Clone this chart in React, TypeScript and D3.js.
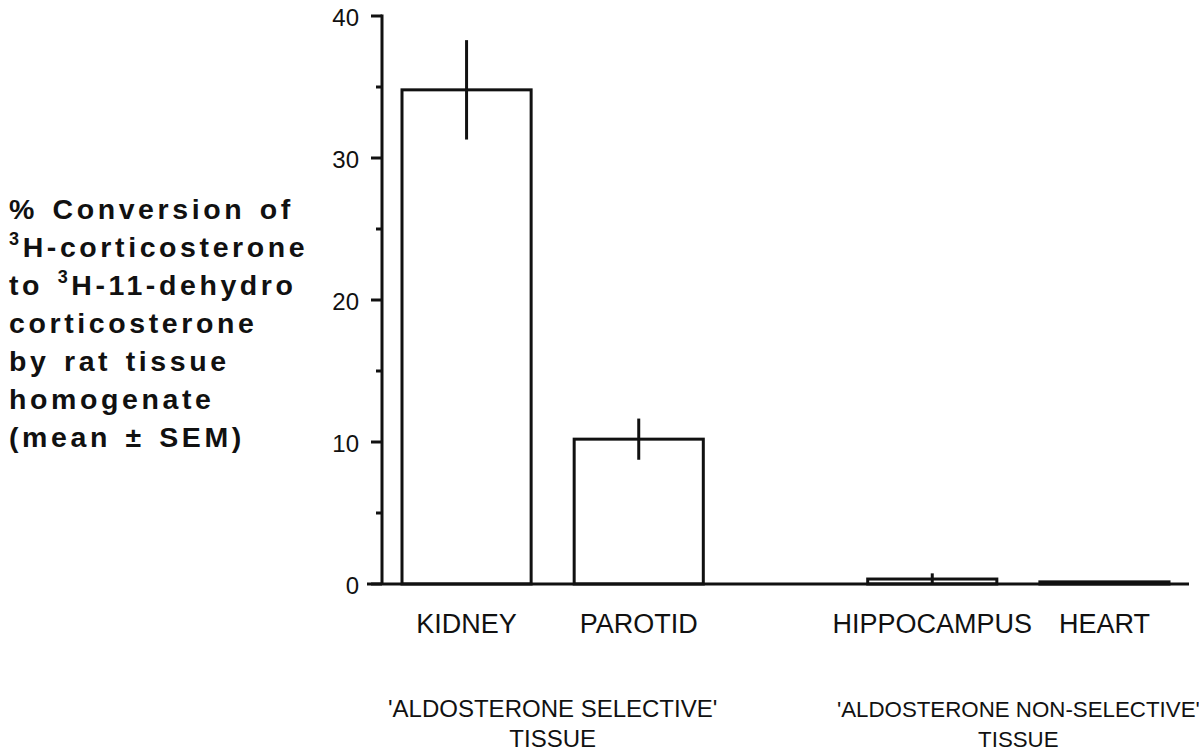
import React from "react";
import * as d3 from "d3";

// Tissues, grouped by aldosterone selectivity
const groups = ["selective", "nonSelective"];
const groupLabels = [
  ["'ALDOSTERONE SELECTIVE'", "TISSUE"],
  ["'ALDOSTERONE NON-SELECTIVE'", "TISSUE"],
];
const tissues = ["KIDNEY", "PAROTID", "HIPPOCAMPUS", "HEART"];
const tissueGroup = ["selective", "selective", "nonSelective", "nonSelective"];
// % conversion, mean and SEM
const means = [34.8, 10.2, 0.35, 0.15];
const sems = [3.5, 1.45, 0.4, 0];
const majorTicks = [0, 10, 20, 30, 40];
const minorTicks = [5, 15, 25, 35];

const W = 1199;
const H = 752;
const FONT = "'Liberation Sans', Arial, Helvetica, sans-serif";
const groupFontSizes = [24, 22.3];

export default function App() {
  const y = d3.scaleLinear().domain([0, 40]).range([584, 16]);
  const xGroup = d3
    .scaleBand<string>()
    .domain(groups)
    .range([402, 1169])
    .paddingInner(0.353)
    .paddingOuter(0);
  const xInner = d3
    .scaleBand<string>()
    .domain(["a", "b"])
    .range([0, xGroup.bandwidth()])
    .paddingInner(0.25)
    .paddingOuter(0);

  const barX = (i: number) => {
    const g = tissueGroup[i];
    const idx = tissueGroup.slice(0, i).filter((t) => t === g).length;
    return (xGroup(g) as number) + (xInner(idx === 0 ? "a" : "b") as number);
  };
  const bw = xInner.bandwidth();
  const axisX = 382;
  const baseY = y(0);

  const titleLines: React.ReactNode[] = [
    "% Conversion of",
    <>
      <tspan fontSize={18} dy={-12}>3</tspan>
      <tspan dy={12}>H-corticosterone</tspan>
    </>,
    <>
      to <tspan fontSize={18} dy={-12}>3</tspan>
      <tspan dy={12}>H-11-dehydro</tspan>
    </>,
    "corticosterone",
    "by rat tissue",
    "homogenate",
    "(mean ± SEM)",
  ];

  return (
    <svg
      width={W}
      height={H}
      style={{ position: "absolute", left: 0, top: 0, background: "#fff" }}
      fontFamily={FONT}
    >
      {/* y-axis title */}
      <g fontWeight="bold" fontSize={28.5} letterSpacing={3.6} wordSpacing={3} fill="#111">
        {titleLines.map((ln, i) => (
          <text key={i} x={9} y={219 + i * 38}>
            {ln}
          </text>
        ))}
      </g>

      {/* y axis */}
      <g stroke="#111" strokeWidth={3} fill="none">
        <line x1={axisX} x2={axisX} y1={y(40) - 1.5} y2={baseY} />
        {majorTicks.map((t) => (
          <line key={"M" + t} x1={axisX - 11} x2={axisX} y1={y(t)} y2={y(t)} />
        ))}
        {minorTicks.map((t) => (
          <line key={"m" + t} x1={axisX - 6} x2={axisX} y1={y(t)} y2={y(t)} />
        ))}
      </g>
      <g fontSize={24} fill="#111" textAnchor="end">
        {majorTicks.map((t) => (
          <text key={t} x={359} y={y(t)} dy="0.42em">
            {t}
          </text>
        ))}
      </g>

      {/* bars */}
      <g stroke="#111" strokeWidth={3} fill="#fff">
        {means.map((m, i) => (
          <rect
            key={tissues[i]}
            x={barX(i)}
            y={y(m)}
            width={bw}
            height={baseY - y(m)}
          />
        ))}
      </g>
      {/* SEM whiskers */}
      <g stroke="#111" strokeWidth={3}>
        {means.map((m, i) =>
          sems[i] > 0 ? (
            <line
              key={tissues[i]}
              x1={barX(i) + bw / 2}
              x2={barX(i) + bw / 2}
              y1={y(m + sems[i])}
              y2={y(Math.max(0, m - sems[i]))}
            />
          ) : null
        )}
      </g>

      {/* x axis baseline */}
      <line x1={367} x2={1189} y1={baseY} y2={baseY} stroke="#111" strokeWidth={3} />

      {/* tissue labels */}
      <g fontSize={27} fill="#111" textAnchor="middle">
        {tissues.map((t, i) => (
          <text key={t} x={barX(i) + bw / 2} y={633}>
            {t}
          </text>
        ))}
      </g>

      {/* group labels */}
      <g fill="#111" textAnchor="middle">
        {groups.map((g, gi) => {
          const cx = (xGroup(g) as number) + xGroup.bandwidth() / 2;
          return (
            <g key={g} fontSize={groupFontSizes[gi]}>
              {groupLabels[gi].map((ln, li) => (
                <text key={li} x={cx} y={717 + li * 30}>
                  {ln}
                </text>
              ))}
            </g>
          );
        })}
      </g>
    </svg>
  );
}
